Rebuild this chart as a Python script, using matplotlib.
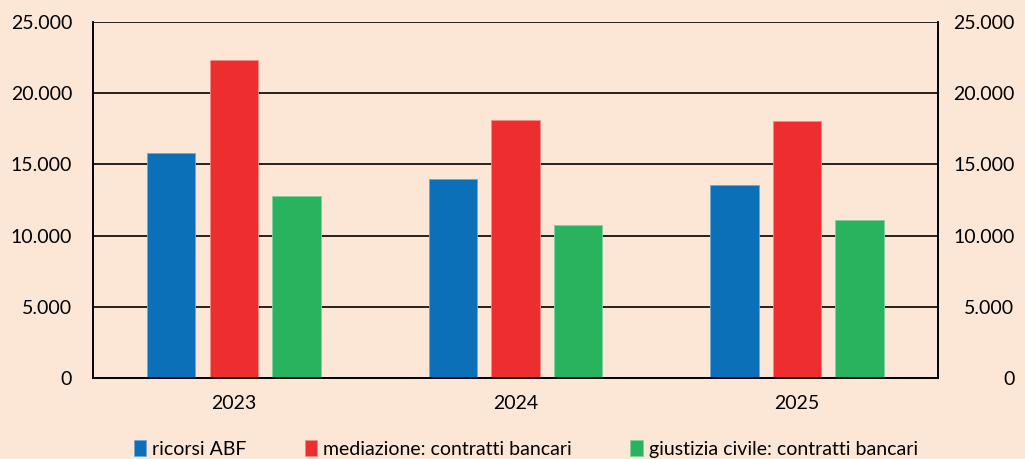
import matplotlib.pyplot as plt
import numpy as np
from matplotlib.ticker import FuncFormatter

# ---- data ----
years = ["2023", "2024", "2025"]
ricorsi_abf = [15800, 13950, 13530]
mediazione = [22330, 18140, 18050]
giustizia_civile = [12800, 10740, 11100]

series_labels = ["ricorsi ABF", "mediazione: contratti bancari", "giustizia civile: contratti bancari"]
colors = ["#0B70B8", "#EE2E2E", "#2AB35F"]
edges = ["#6FA6D6", "#F58A8A", "#7FD19E"]

BG = "#FCE6D5"

plt.rcParams["font.family"] = ["Lato", "DejaVu Sans"]

fig = plt.figure(figsize=(10.25, 4.59), dpi=100, facecolor=BG)
ax = fig.add_axes([0.0907, 0.1765, 0.8244, 0.7755], facecolor=BG)

x = np.arange(len(years))
width = 0.172
step = 0.222
for i, (vals, lab) in enumerate(zip([ricorsi_abf, mediazione, giustizia_civile], series_labels)):
    ax.bar(x + (i - 1) * step, vals, width, color=colors[i], edgecolor=edges[i],
           linewidth=0.6, label=lab, zorder=3)

fmt = FuncFormatter(lambda v, p: f"{int(v):,}".replace(",", "."))

ax.set_xlim(-0.5, 2.5)
ax.set_ylim(0, 25000)
ax.set_yticks(np.arange(0, 25001, 5000))
ax.yaxis.set_major_formatter(fmt)
ax.grid(axis="y", color="black", linewidth=1.2, zorder=1)
ax.set_axisbelow(True)

ax.set_xticks(x)
ax.set_xticklabels(years)
ax.tick_params(axis="x", length=0, pad=12, labelsize=14)
ax.tick_params(axis="y", length=0, pad=15, labelsize=14)

# right-hand labels, right-aligned
ax2 = ax.twinx()
ax2.set_ylim(ax.get_ylim())
ax2.set_yticks(ax.get_yticks())
ax2.yaxis.set_major_formatter(fmt)
ax2.tick_params(axis="y", length=0, pad=55, labelsize=14)
for t in ax2.get_yticklabels():
    t.set_horizontalalignment("right")

for a in (ax, ax2):
    for side in ["left", "right", "bottom"]:
        a.spines[side].set_color("black")
        a.spines[side].set_linewidth(1.2)
    a.spines["top"].set_visible(False)

fig.legend(*ax.get_legend_handles_labels(), loc="center", bbox_to_anchor=(0.513, 0.022), ncol=3,
           frameon=False, fontsize=14, handlelength=0.65, handleheight=0.9, handletextpad=0.3,
           columnspacing=3.0)

fig.savefig("out.png", dpi=100, facecolor=BG)
